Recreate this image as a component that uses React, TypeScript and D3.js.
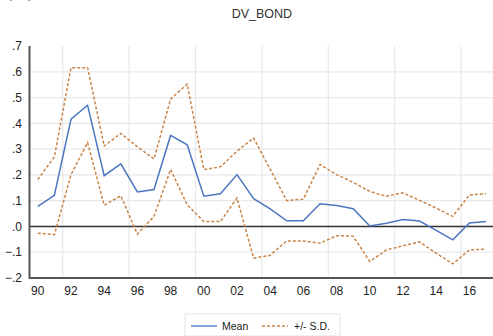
import * as d3 from "d3";

// Annual observations, 1990-2017
const YEARS = [
  1990, 1991, 1992, 1993, 1994, 1995, 1996, 1997, 1998, 1999,
  2000, 2001, 2002, 2003, 2004, 2005, 2006, 2007, 2008, 2009,
  2010, 2011, 2012, 2013, 2014, 2015, 2016, 2017,
];

const MEAN = [
  0.078, 0.121, 0.416, 0.47, 0.197, 0.243, 0.134, 0.143, 0.353, 0.317,
  0.117, 0.127, 0.201, 0.108, 0.068, 0.022, 0.022, 0.088, 0.081, 0.069,
  0.002, 0.012, 0.027, 0.021, -0.015, -0.052, 0.013, 0.019,
];

const UPPER = [
  0.182, 0.27, 0.616, 0.616, 0.312, 0.361, 0.309, 0.262, 0.494, 0.552,
  0.221, 0.231, 0.292, 0.343, 0.222, 0.1, 0.106, 0.24, 0.201, 0.171,
  0.136, 0.117, 0.131, 0.101, 0.071, 0.039, 0.122, 0.127,
];

const LOWER = [
  -0.026, -0.032, 0.201, 0.325, 0.082, 0.119, -0.03, 0.039, 0.221, 0.084,
  0.019, 0.019, 0.11, -0.123, -0.112, -0.056, -0.056, -0.065, -0.036, -0.038,
  -0.136, -0.091, -0.075, -0.06, -0.104, -0.145, -0.091, -0.088,
];

const Y_TICKS = [-0.2, -0.1, 0, 0.1, 0.2, 0.3, 0.4, 0.5, 0.6, 0.7];
const X_LABEL_YEARS = [
  1990, 1992, 1994, 1996, 1998, 2000, 2002, 2004, 2006, 2008, 2010, 2012, 2014, 2016,
];
const GRID_YEARS = [1992, 1996, 2000, 2004, 2008, 2012, 2016];

const TITLE = "DV_BOND";
const LEGEND = ["Mean", "+/- S.D."];

const BLUE = "#4a76c1";
const ORANGE = "#c98446";
const FONT = "'Liberation Sans', Arial, sans-serif";

export default function App() {
  const width = 493;
  const height = 336;
  const margin = { left: 29.5, top: 46, bottom: 278 };
  const yearW = 16.6;

  // each year takes one slot, points sit at the slot centre
  const x = d3
    .scaleLinear()
    .domain([YEARS[0] - 0.5, YEARS[YEARS.length - 1] + 0.5])
    .range([margin.left, margin.left + YEARS.length * yearW]);
  const y = d3.scaleLinear().domain([-0.2, 0.7]).range([margin.bottom, margin.top]);

  const line = (vals: number[]) =>
    d3
      .line<number>()
      .x((_, i) => x(YEARS[i]))
      .y((d) => y(d))(vals) || "";

  const fmtY = (v: number) => {
    if (Math.abs(v) < 1e-9) return ".0";
    const s = d3.format(".1f")(v);
    return s.replace("0.", ".");
  };

  const right = width + 5;

  return (
    <svg
      width={width}
      height={height}
      style={{ position: "absolute", left: 0, top: 0, background: "#fff" }}
      fontFamily={FONT}
    >
      {/* caption fragment, cut off at the top like in the scan */}
      <text x={8} y={-2} fontSize={24} fill="#222" letterSpacing={4} fontFamily="'Noto Sans CJK SC', sans-serif">
        图4
      </text>

      <text x={(margin.left + x.range()[1]) / 2} y={18} fontSize={12.5} textAnchor="middle" fill="#333">
        {TITLE}
      </text>

      {/* grid */}
      {Y_TICKS.filter((t) => t > -0.2 && t < 0.7).map((t) => (
        <line key={t} x1={margin.left} x2={right} y1={y(t)} y2={y(t)} stroke="#e8e8e8" strokeWidth={1.2} />
      ))}
      {GRID_YEARS.map((yr) => (
        <line key={yr} x1={x(yr - 0.5)} x2={x(yr - 0.5)} y1={margin.top} y2={margin.bottom} stroke="#e8e8e8" strokeWidth={1.2} />
      ))}

      {/* zero line */}
      <line x1={margin.left} x2={right} y1={y(0)} y2={y(0)} stroke="#333" strokeWidth={1.4} />

      {/* series */}
      <path d={line(UPPER)} fill="none" stroke={ORANGE} strokeWidth={1.5} strokeDasharray="3,2" />
      <path d={line(LOWER)} fill="none" stroke={ORANGE} strokeWidth={1.5} strokeDasharray="3,2" />
      <path d={line(MEAN)} fill="none" stroke={BLUE} strokeWidth={1.5} />

      {/* axes */}
      <line x1={margin.left} x2={margin.left} y1={margin.top} y2={margin.bottom + 1} stroke="#555" strokeWidth={2} />
      <line x1={margin.left} x2={right} y1={margin.bottom} y2={margin.bottom} stroke="#555" strokeWidth={2} />

      {Y_TICKS.map((t) => (
        <text key={t} x={22} y={y(t)} dy="0.35em" fontSize={12} textAnchor="end" fill="#222">
          {fmtY(t)}
        </text>
      ))}
      {X_LABEL_YEARS.map((yr) => (
        <text key={yr} x={x(yr)} y={295} fontSize={12} textAnchor="middle" fill="#222">
          {String(yr).slice(2)}
        </text>
      ))}

      {/* legend */}
      <g>
        <rect x={185} y={314} width={155} height={22} fill="#fff" stroke="#e4e4e4" />
        <line x1={191} x2={217} y1={326} y2={326} stroke={BLUE} strokeWidth={1.3} />
        <text x={222} y={329.5} fontSize={10.5} fill="#222">
          {LEGEND[0]}
        </text>
        <line x1={262} x2={288} y1={326} y2={326} stroke={ORANGE} strokeWidth={1.3} strokeDasharray="3,2" />
        <text x={294} y={329.5} fontSize={10.5} fill="#222">
          {LEGEND[1]}
        </text>
      </g>
    </svg>
  );
}
